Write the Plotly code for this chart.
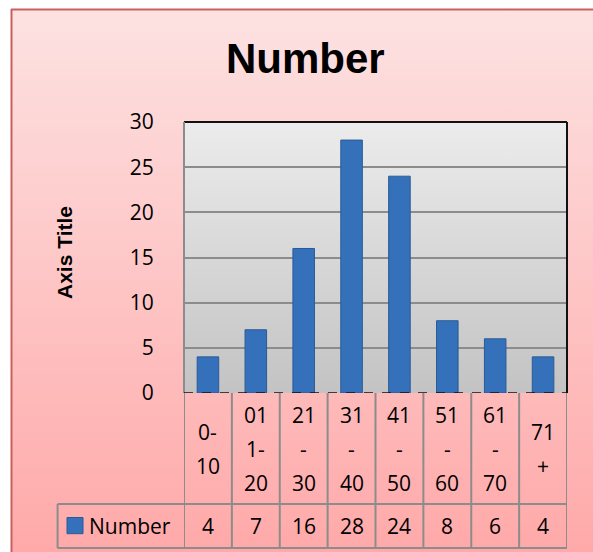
import plotly.graph_objects as go

# ---- data ----
categories = ["0-10", "011-20", "21-30", "31-40", "41-50", "51-60", "61-70", "71+"]
category_lines = [["0-", "10"], ["01", "1-", "20"], ["21", "-", "30"], ["31", "-", "40"],
                  ["41", "-", "50"], ["51", "-", "60"], ["61", "-", "70"], ["71", "+"]]
values = [4, 7, 16, 28, 24, 8, 6, 4]
series_name = "Number"
y_ticks = [0, 5, 10, 15, 20, 25, 30]
chart_title = "Number"
axis_title = "Axis Title"

# ---- layout constants (pixels) ----
W, H = 593, 552
PL, PR, PT, PB = 184, 567, 122, 393   # plot area
ROW1_BOTTOM, ROW2_BOTTOM = 504, 548
LEFT_CELL = 57.6
BAR_COLOR = "#3571ba"
GRID = "#8c8c8c"
TXT = "Open Sans"
BOLD = "Liberation Sans"


def py(p):  # pixel y -> background-axis data y
    return H - p


fig = go.Figure()

def grad_rect(x0, x1, top, bottom, c_top, c_bottom):
    fig.add_trace(go.Scatter(
        x=[x0, x1, x1, x0, x0], y=[py(bottom), py(bottom), py(top), py(top), py(bottom)],
        mode="lines", line=dict(width=0), fill="toself",
        fillgradient=dict(type="vertical", start=py(bottom), stop=py(top),
                          colorscale=[[0, c_bottom], [1, c_top]]),
        hoverinfo="skip", showlegend=False, xaxis="x", yaxis="y"))

grad_rect(11, 620, 9, 580, "#fde2e2", "#ffa6a6")
grad_rect(PL, PR, PT, PB, "#ececec", "#c3c3c3")

fig.add_trace(go.Bar(
    x=categories, y=values, name=series_name, xaxis="x2", yaxis="y2",
    width=0.45, marker=dict(color=BAR_COLOR, line=dict(color="#2a5a96", width=1)),
    showlegend=False))

shapes = []
shapes.append(dict(type="line", xref="x", yref="y", x0=11, x1=620, y0=py(9.5), y1=py(9.5),
                   line=dict(color="#c9605d", width=2)))
shapes.append(dict(type="line", xref="x", yref="y", x0=11.5, x1=11.5, y0=py(9), y1=py(560),
                   line=dict(color="#c9605d", width=2)))
shapes.append(dict(type="line", xref="x2 domain", yref="y2 domain", x0=0, x1=1, y0=1, y1=1,
                   line=dict(color="#111111", width=2)))
shapes.append(dict(type="line", xref="x2 domain", yref="y2 domain", x0=1, x1=1, y0=0, y1=1,
                   line=dict(color="#111111", width=2)))
shapes.append(dict(type="line", xref="x2 domain", yref="y2 domain", x0=0, x1=0, y0=0, y1=1,
                   line=dict(color=GRID, width=2)))
shapes.append(dict(type="line", xref="x2 domain", yref="y2", x0=0, x1=1, y0=0, y1=0,
                   line=dict(color="#111111", width=1.5, dash="dash")))
for i in range(len(categories) + 1):
    shapes.append(dict(type="line", xref="x2", yref="y", x0=i - 0.5, x1=i - 0.5,
                       y0=py(PB), y1=py(ROW2_BOTTOM), line=dict(color=GRID, width=2)))
shapes.append(dict(type="line", xref="x", yref="y", x0=LEFT_CELL, x1=LEFT_CELL,
                   y0=py(ROW1_BOTTOM), y1=py(ROW2_BOTTOM), line=dict(color=GRID, width=2)))
for yy in (ROW1_BOTTOM, ROW2_BOTTOM):
    shapes.append(dict(type="line", xref="x", yref="y", x0=LEFT_CELL, x1=PR,
                       y0=py(yy), y1=py(yy), line=dict(color=GRID, width=2)))
shapes.append(dict(type="rect", xref="x", yref="y", x0=67, x1=83, y0=py(517.5), y1=py(533.7),
                   fillcolor=BAR_COLOR, line=dict(color="#2a5a96", width=1)))

annotations = []
annotations.append(dict(text=chart_title, xref="x", yref="y", x=305, y=py(58),
                        showarrow=False,
                        font=dict(family=BOLD, size=42, color="black", weight="bold"),
                        xanchor="center", yanchor="middle"))
annotations.append(dict(text=axis_title, xref="x", yref="y", x=64, y=py(253), textangle=-90,
                        showarrow=False,
                        font=dict(family=BOLD, size=21, color="black", weight="bold"),
                        xanchor="center", yanchor="middle"))
row1_mid = (PB + ROW1_BOTTOM) / 2
line_gap = 34
for i, lines in enumerate(category_lines):
    n = len(lines)
    for k, t in enumerate(lines):
        annotations.append(dict(text=t, xref="x2", yref="y", x=i, y=py(row1_mid),
                                yshift=-(k - (n - 1) / 2) * line_gap,
                                showarrow=False, font=dict(family=TXT, size=21, color="black"),
                                xanchor="center", yanchor="middle"))
row2_mid = (ROW1_BOTTOM + ROW2_BOTTOM) / 2
for i, v in enumerate(values):
    annotations.append(dict(text=str(v), xref="x2", yref="y", x=i, y=py(row2_mid),
                            showarrow=False, font=dict(family=TXT, size=21, color="black"),
                            xanchor="center", yanchor="middle"))
annotations.append(dict(text=series_name, xref="x", yref="y", x=87, y=py(row2_mid),
                        showarrow=False, font=dict(family=TXT, size=21, color="black"),
                        xanchor="left", yanchor="middle"))

fig.update_layout(
    width=W, height=H, autosize=False,
    margin=dict(l=0, r=0, t=0, b=0, pad=0, autoexpand=False),
    paper_bgcolor="white", plot_bgcolor="rgba(0,0,0,0)",
    showlegend=False,
    xaxis=dict(domain=[0, 1], range=[0, W], visible=False, fixedrange=True, automargin=False),
    yaxis=dict(domain=[0, 1], range=[0, H], visible=False, fixedrange=True, automargin=False),
    xaxis2=dict(domain=[PL / W, PR / W], anchor="y2", range=[-0.5, len(categories) - 0.5],
                showticklabels=False, showgrid=False, showline=False, zeroline=False,
                fixedrange=True, automargin=False),
    yaxis2=dict(domain=[(H - PB) / H, (H - PT) / H], anchor="x2", range=[0, 30],
                tickvals=y_ticks, showgrid=True, gridcolor=GRID, gridwidth=1.5,
                zeroline=False, showline=False, ticks="outside", ticklen=0,
                ticklabelstandoff=25, tickfont=dict(family=TXT, size=21, color="black"),
                fixedrange=True, automargin=False),
    shapes=shapes, annotations=annotations,
)

# let the figure fill the page exactly (no default body margin)
page_fit = "document.body.style.margin='0';document.documentElement.style.overflow='hidden';"
fig.write_html("out.html", post_script=page_fit, config={"displayModeBar": False})
